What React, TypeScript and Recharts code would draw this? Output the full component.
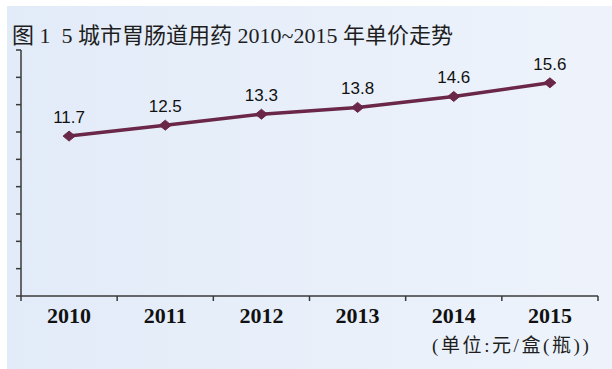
import { LineChart, Line, XAxis, YAxis, LabelList } from "recharts";

const years = ["2010", "2011", "2012", "2013", "2014", "2015"];
const prices = [11.7, 12.5, 13.3, 13.8, 14.6, 15.6];
const yTicks = [0, 2, 4, 6, 8, 10, 12, 14, 16, 18];
const bandEdges = [-0.5, 0.5, 1.5, 2.5, 3.5, 4.5, 5.5];
const labelTicks = [0, 1, 2, 3, 4, 5];

const data = years.map((y, i) => ({ idx: i, year: y, price: prices[i] }));

const lineColor = "#6a2748";
const axisColor = "#3a3a3a";

const Diamond = (props: any) => {
  const { cx, cy } = props;
  if (cx == null || cy == null) return null;
  return (
    <path
      d={`M${cx - 6},${cy} L${cx},${cy - 5} L${cx + 6},${cy} L${cx},${cy + 5} Z`}
      fill={lineColor}
      stroke={lineColor}
    />
  );
};

const NoLabel = () => <g />;

export default function App() {
  return (
    <div
      style={{
        position: "absolute",
        left: 0,
        top: 0,
        width: 612,
        height: 369,
        background: "#ffffff",
        overflow: "hidden",
      }}
    >
      <div
        style={{
          position: "absolute",
          left: 7,
          top: 6,
          right: 0,
          bottom: 0,
          background: "linear-gradient(90deg, #e2ebf8 0%, #e9f0fa 60%, #eef3fb 100%)",
        }}
      />
      <div
        style={{
          position: "absolute",
          left: 12,
          top: 17,
          fontFamily: '"Liberation Serif", "Noto Sans CJK SC", serif',
          fontSize: 22,
          color: "#1e1e1e",
          whiteSpace: "pre",
        }}
      >
        图 1  5 城市胃肠道用药 2010~2015 年单价走势
      </div>
      <div
        style={{
          position: "absolute",
          left: 432,
          top: 330,
          fontFamily: '"Liberation Serif", "Noto Sans CJK SC", serif',
          fontSize: 19,
          letterSpacing: 2.6,
          color: "#1e1e1e",
          whiteSpace: "pre",
        }}
      >
        (单位:元/盒(瓶))
      </div>
      <div style={{ position: "absolute", left: 0, top: 0 }}>
        <LineChart
          width={612}
          height={369}
          data={data}
          margin={{ top: 50, right: 14, bottom: 71, left: 0 }}
        >
          <XAxis
            xAxisId="edges"
            dataKey="idx"
            type="number"
            domain={[-0.5, 5.5]}
            ticks={bandEdges}
            height={1}
            tick={NoLabel}
            tickSize={5}
            tickLine={{ stroke: axisColor, strokeWidth: 1.5 }}
            axisLine={{ stroke: axisColor, strokeWidth: 1.5 }}
          />
          <XAxis
            xAxisId="labels"
            dataKey="idx"
            type="number"
            domain={[-0.5, 5.5]}
            ticks={labelTicks}
            height={1}
            axisLine={false}
            tickLine={false}
            tickMargin={4}
            tickFormatter={(v: number) => years[v]}
            tick={{
              fill: "#111111",
              fontSize: 22,
              fontWeight: 700,
              fontFamily: '"Liberation Serif", serif',
            }}
          />
          <YAxis
            domain={[0, 18]}
            ticks={yTicks}
            width={21}
            tick={NoLabel}
            tickSize={5}
            tickLine={{ stroke: axisColor, strokeWidth: 1.5 }}
            axisLine={{ stroke: axisColor, strokeWidth: 1.5 }}
          />
          <Line
            xAxisId="labels"
            type="linear"
            dataKey="price"
            stroke={lineColor}
            strokeWidth={3.5}
            dot={<Diamond />}
            activeDot={false}
            isAnimationActive={false}
          >
            <LabelList
              dataKey="price"
              position="top"
              offset={13}
              fill="#111111"
              fontSize={17}
              fontFamily='"Liberation Sans", Arial, sans-serif'
            />
          </Line>
        </LineChart>
      </div>
    </div>
  );
}
